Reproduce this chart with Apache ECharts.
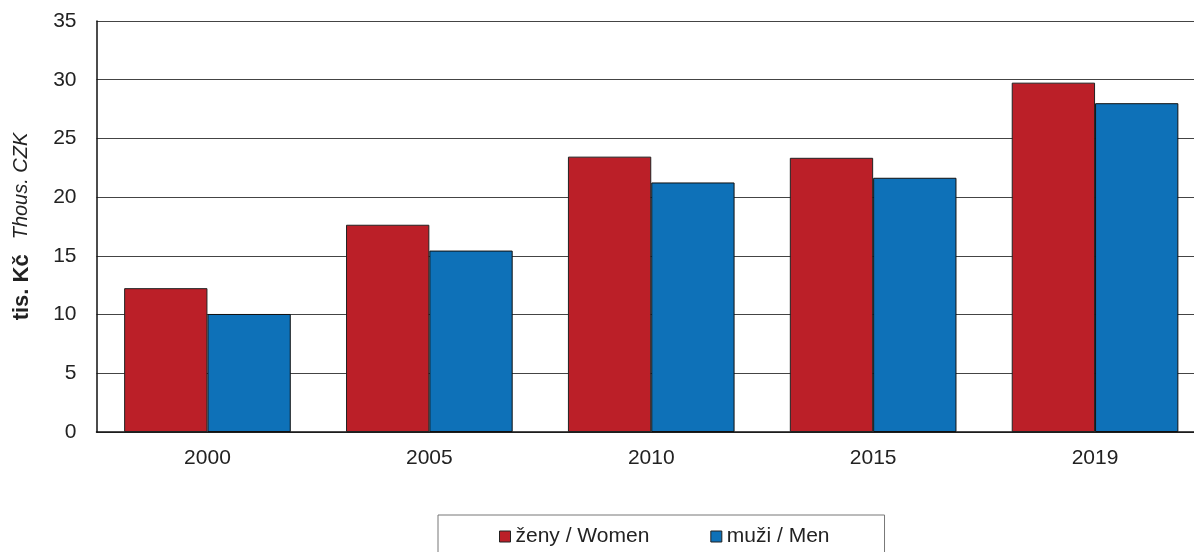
<!DOCTYPE html>
<html><head><meta charset="utf-8">
<script src="https://cdn.jsdelivr.net/npm/echarts@6/dist/echarts.min.js"></script>
<style>html,body{margin:0;padding:0;background:#fff;overflow:hidden}#c{width:1210px;height:552px}</style>
</head><body><div id="c"></div>
<script>
const categories = ['2000','2005','2010','2015','2019'];
const women = [12.25, 17.65, 23.45, 23.35, 29.75];
const men = [10.05, 15.45, 21.25, 21.65, 28.0];
const seriesNames = ['ženy / Women', 'muži / Men'];

const chart = echarts.init(document.getElementById('c'));
const font = 'Liberation Sans, Arial, sans-serif';
chart.setOption({
  animation: false,
  textStyle: { fontFamily: font },
  grid: { left: 96.5, right: 4, top: 21, bottom: 120, containLabel: false },
  legend: {
    left: 438, top: 515, itemWidth: 11, itemHeight: 11, itemGap: 61,
    padding: [11, 55, 40, 61],
    borderColor: '#777', borderWidth: 1,
    textStyle: { fontSize: 21, color: '#222', fontFamily: font },
    data: seriesNames.map(n => ({ name: n, icon: 'rect', itemStyle: { borderColor: '#222', borderWidth: 1 } }))
  },
  xAxis: {
    type: 'category', data: categories,
    axisLine: { lineStyle: { color: '#111', width: 1.5 } },
    axisTick: { show: false },
    axisLabel: { fontSize: 21, color: '#222', margin: 16 }
  },
  yAxis: {
    type: 'value', min: 0, max: 35, interval: 5,
    axisLine: { show: true, lineStyle: { color: '#111', width: 1.5 } },
    axisTick: { show: false },
    axisLabel: { fontSize: 21, color: '#222', margin: 20 },
    splitLine: { lineStyle: { color: '#444', width: 1.2 } },
    name: '{b|tis. Kč}{g|}{i|Thous. CZK}',
    nameLocation: 'middle', nameGap: 64, nameRotate: 90,
    nameTextStyle: { rich: {
      b: { fontWeight: 'bold', fontSize: 22, color: '#222', fontFamily: font },
      g: { width: 15 },
      i: { fontStyle: 'italic', fontSize: 20, color: '#222', fontFamily: font }
    } }
  },
  series: [
    { name: seriesNames[0], type: 'bar', data: women, barGap: '0%', barCategoryGap: '24.9%',
      itemStyle: { color: '#BB1F28', borderColor: '#222', borderWidth: 1 } },
    { name: seriesNames[1], type: 'bar', data: men, barGap: '0%', barCategoryGap: '24.9%',
      itemStyle: { color: '#0E71B8', borderColor: '#111', borderWidth: 1 } }
  ]
});
</script></body></html>
